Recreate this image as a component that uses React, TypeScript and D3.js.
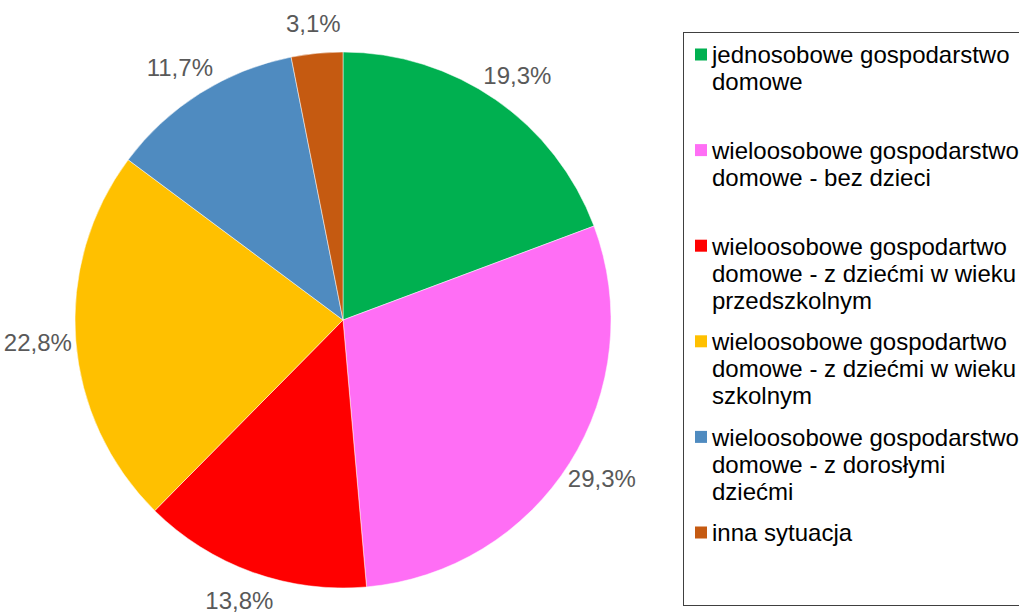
import React, { useEffect, useRef } from 'react';
import * as d3 from 'd3';

const categories = [
  'jednosobowe gospodarstwo domowe',
  'wieloosobowe gospodarstwo domowe - bez dzieci',
  'wieloosobowe gospodartwo domowe - z dziećmi w wieku przedszkolnym',
  'wieloosobowe gospodartwo domowe - z dziećmi w wieku szkolnym',
  'wieloosobowe gospodarstwo domowe - z dorosłymi dziećmi',
  'inna sytuacja',
];
const values = [19.3, 29.3, 13.8, 22.8, 11.7, 3.1];
const colors = ['#00B050', '#FF6EF5', '#FF0000', '#FFC000', '#4F8BC0', '#C55A11'];

const FONT = '"Liberation Sans", Arial, sans-serif';
const FONT_SIZE = 24;

function wrap(text: string, maxWidth: number): string[] {
  const ctx = document.createElement('canvas').getContext('2d') as CanvasRenderingContext2D;
  ctx.font = `${FONT_SIZE}px ${FONT}`;
  const words = text.split(' ');
  const lines: string[] = [];
  let cur = '';
  words.forEach((w) => {
    const test = cur ? cur + ' ' + w : w;
    if (ctx.measureText(test).width > maxWidth && cur) {
      lines.push(cur);
      cur = w;
    } else {
      cur = test;
    }
  });
  if (cur) lines.push(cur);
  return lines;
}

export default function App() {
  const ref = useRef<SVGSVGElement>(null);

  useEffect(() => {
    const width = 1019;
    const height = 613;
    const svg = d3.select(ref.current);
    svg.selectAll('*').remove();
    svg.attr('width', width).attr('height', height);

    const cx = 343;
    const cy = 320;
    const radius = 268;

    const pie = d3
      .pie<number>()
      .sort(null)
      .value((d) => d);
    const arcs = pie(values);

    const arc = d3.arc<d3.PieArcDatum<number>>().innerRadius(0).outerRadius(radius);
    const labelArc = d3
      .arc<d3.PieArcDatum<number>>()
      .innerRadius(radius + 30)
      .outerRadius(radius + 30);

    const g = svg.append('g').attr('transform', `translate(${cx},${cy})`);

    g.selectAll('path')
      .data(arcs)
      .enter()
      .append('path')
      .attr('d', arc)
      .attr('fill', (_, i) => colors[i])
      .attr('stroke', '#ffffff')
      .attr('stroke-width', 0.5);

    g.selectAll('text.lbl')
      .data(arcs)
      .enter()
      .append('text')
      .attr('class', 'lbl')
      .attr('transform', (d) => {
        const [x, y] = labelArc.centroid(d);
        // push a bit further sideways, like the spreadsheet's best-fit labels
        const mid = (d.startAngle + d.endAngle) / 2;
        return `translate(${x + Math.sin(mid) * 8},${y})`;
      })
      .attr('text-anchor', 'middle')
      .attr('dy', '0.35em')
      .attr('font-family', FONT)
      .attr('font-size', FONT_SIZE)
      .attr('fill', '#595959')
      .text((d) => d.data.toFixed(1).replace('.', ',') + '%');

    // legend
    const legend = svg.append('g');
    legend
      .append('rect')
      .attr('x', 683.5)
      .attr('y', 32.5)
      .attr('width', 400)
      .attr('height', 573)
      .attr('fill', 'none')
      .attr('stroke', '#404040')
      .attr('stroke-width', 1);

    const yItem = d3
      .scaleLinear()
      .domain([0, categories.length - 1])
      .range([55, 533]);

    categories.forEach((c, i) => {
      const y = yItem(i);
      legend
        .append('rect')
        .attr('x', 695)
        .attr('y', y - 6.5)
        .attr('width', 12)
        .attr('height', 12)
        .attr('fill', colors[i]);
      const t = legend
        .append('text')
        .attr('font-family', FONT)
        .attr('font-size', FONT_SIZE)
        .attr('fill', '#000000');
      wrap(c, 310).forEach((line, j) => {
        t.append('tspan')
          .attr('x', 712)
          .attr('y', y + j * 27)
          .attr('dy', '0.35em')
          .text(line);
      });
    });
  }, []);

  return (
    <svg
      ref={ref}
      style={{ position: 'absolute', left: 0, top: 0, background: '#ffffff' }}
    />
  );
}
